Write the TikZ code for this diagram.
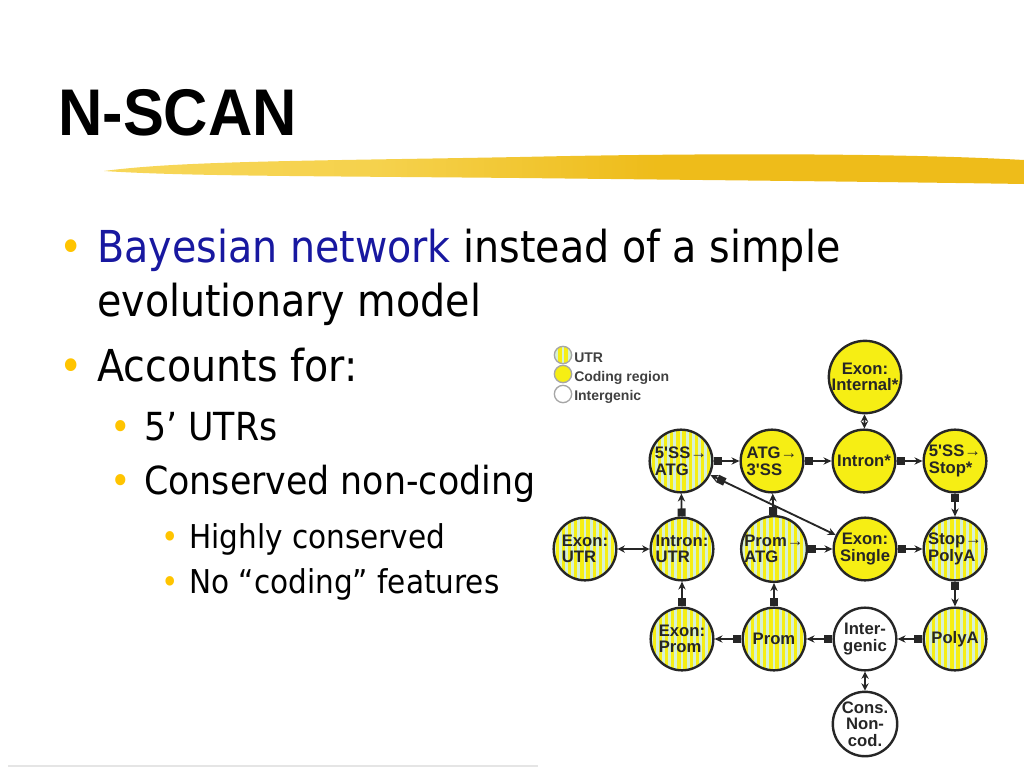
\documentclass[tikz,border=0pt]{standalone}
\usepackage{fontspec}
\setmainfont{DejaVu Sans}[FakeStretch=0.9]
\newfontfamily\titlefont{Liberation Sans}[FakeStretch=0.93]
\newfontfamily\nodefont{Liberation Sans}
\usetikzlibrary{arrows.meta}
\definecolor{codeyellow}{RGB}{246,238,20}
\definecolor{utrstripe}{RGB}{214,240,214}
\definecolor{bulletgold}{RGB}{255,196,0}
\definecolor{netblue}{RGB}{24,24,160}
\definecolor{swoosh}{RGB}{238,188,26}
\definecolor{swooshlight}{RGB}{250,224,110}
\pgfdeclarehorizontalshading{swooshshade}{100bp}{color(0bp)=(swooshlight); color(40bp)=(swooshlight!60!swoosh); color(55bp)=(swoosh); color(85bp)=(swoosh); color(100bp)=(swooshlight!50!swoosh)}

\begin{document}
\begin{tikzpicture}[%
            x=0.75pt,
            y=-0.75pt,
            >=Stealth,
            ]
    \tikzset{state/.style = {circle, minimum size=47pt, inner sep=0pt, draw=black!85, line width=1.8pt, text=black!85, align=center, font=\nodefont\bfseries\fontsize{12.5}{12.5}\selectfont}}
    \tikzset{coding/.style = {state, fill=codeyellow}}
    \tikzset{utr/.style = {coding, align=left, path picture={\foreach \k in {-6,...,6} \fill[utrstripe] ([xshift=\k*4.6pt-1.1pt]path picture bounding box.south) rectangle ([xshift=\k*4.6pt+1.1pt]path picture bounding box.north);}}}
    \tikzset{intergen/.style = {state, fill=white}}
    \tikzset{link/.style = {line width=1.4pt, black!85, {Square[length=6pt,width=6pt]}-{Stealth[length=6pt,width=5.5pt]}}}
    \tikzset{twoway/.style = {line width=1.4pt, black!85, {Stealth[length=5.5pt,width=5.5pt]}-{Stealth[length=5.5pt,width=5.5pt]}}}
    \tikzset{lvlone/.style = {anchor=base west, inner sep=0pt, font=\fontsize{33}{40}\selectfont}}
    \tikzset{lvltwo/.style = {anchor=base west, inner sep=0pt, font=\fontsize{29}{34}\selectfont}}
    \tikzset{lvlthree/.style = {anchor=base west, inner sep=0pt, font=\fontsize{24.6}{29}\selectfont}}
    \tikzset{dot/.style = {anchor=base, inner sep=0pt, text=bulletgold}}
    \tikzset{key/.style = {circle, minimum size=13pt, inner sep=0pt, draw=black!35, line width=1pt}}
    \tikzset{keytext/.style = {anchor=base west, inner sep=0pt, text=black!75, font=\nodefont\bfseries\fontsize{10.5}{12}\selectfont}}

    \useasboundingbox (0,0) rectangle (1024,768);

    % Title & swoosh
    \node[anchor=base west, inner sep=0pt, font=\titlefont\bfseries\fontsize{49.5}{50}\selectfont] (title) at (58,135) {N-SCAN};
    \shade[shading=swooshshade] (104,171) .. controls (180,161) and (300,161) .. (520,157) .. controls (700,153) and (900,153) .. (1024,160) -- (1024,184) .. controls (900,182) and (700,180) .. (520,178) .. controls (300,176) and (180,176) .. (104,171) -- cycle;
    \draw[black!10, line width=1pt] (8,766) -- (538,766);

    % Bullets
    \node[dot, font=\fontsize{33}{40}\selectfont] (d1) at (71,262) {•};
    \node[lvlone] (t1) at (97,262) {{\color{netblue}Bayesian network} instead of a simple};
    \node[lvlone] (t1b) at (97,316) {evolutionary model};
    \node[dot, font=\fontsize{33}{40}\selectfont] (d2) at (71,381) {•};
    \node[lvlone] (t2) at (97,381) {Accounts for:};
    \node[dot, font=\fontsize{29}{34}\selectfont] (d3) at (121,440) {•};
    \node[lvltwo] (t3) at (144,440) {5’ UTRs};
    \node[dot, font=\fontsize{29}{34}\selectfont] (d4) at (121,494) {•};
    \node[lvltwo] (t4) at (144,494) {Conserved non-coding};
    \node[dot, font=\fontsize{24.6}{29}\selectfont] (d5) at (170,548) {•};
    \node[lvlthree] (t5) at (189,548) {Highly conserved};
    \node[dot, font=\fontsize{24.6}{29}\selectfont] (d6) at (170,593) {•};
    \node[lvlthree] (t6) at (189,593) {No “coding” features};

    % Legend
    \node[key, utr, draw=black!35, line width=1pt, minimum size=13pt] (kutr) at (563,355) {};
    \node[key, fill=codeyellow] (kcod) at (563,374) {};
    \node[key, fill=white] (kint) at (563,394) {};
    \node[keytext] at (574,362) {UTR};
    \node[keytext] at (574,381) {Coding region};
    \node[keytext] at (574,400) {Intergenic};

    % States
    \node[coding] (eint) at (865,377) {Exon:\\Internal*};
    \node[utr] (ssatg) at (681,461) {5'SS→\\ATG};
    \node[coding, align=left] (atgss) at (772,461) {ATG→\\3'SS};
    \node[coding] (intron) at (864,461) {Intron*};
    \node[coding, align=left] (ssstop) at (955,461) {5'SS→\\Stop*};
    \node[utr] (exutr) at (585,549) {Exon:\\UTR};
    \node[utr] (inutr) at (682,549) {Intron:\\UTR};
    \node[utr] (promatg) at (774,549) {Prom→\\ATG};
    \node[coding] (single) at (865,549) {Exon:\\Single};
    \node[utr] (stoppa) at (955,549) {Stop→\\PolyA};
    \node[utr] (exprom) at (682,639) {Exon:\\Prom};
    \node[utr] (prom) at (774,639) {Prom};
    \node[intergen] (igenic) at (865,639) {Inter-\\genic};
    \node[utr] (polya) at (955,639) {PolyA};
    \node[intergen] (cons) at (865,724) {Cons.\\Non-\\cod.};

    % Links
    \draw[link] (ssatg) -- (atgss);
    \draw[link] (atgss) -- (intron);
    \draw[link] (intron) -- (ssstop);
    \draw[link] (ssstop) -- (stoppa);
    \draw[link] (inutr) -- (ssatg);
    \draw[link] (promatg) -- (atgss);
    \draw[link] (promatg) -- (single);
    \draw[link] (single) -- (stoppa);
    \draw[link] (stoppa) -- (polya);
    \draw[link] (exprom) -- (inutr);
    \draw[link] (prom) -- (promatg);
    \draw[link] (prom) -- (exprom);
    \draw[link] (igenic) -- (prom);
    \draw[link] (polya) -- (igenic);
    \draw[link, {Stealth[length=6pt,width=5.5pt]Square[length=6pt,width=6pt]}-{Stealth[length=6pt,width=5.5pt]}] (ssatg) -- (single);
    \draw[twoway] (eint) -- (intron);
    \draw[twoway] (exutr) -- (inutr);
    \draw[twoway] (igenic) -- (cons);

\end{tikzpicture}
\end{document}
